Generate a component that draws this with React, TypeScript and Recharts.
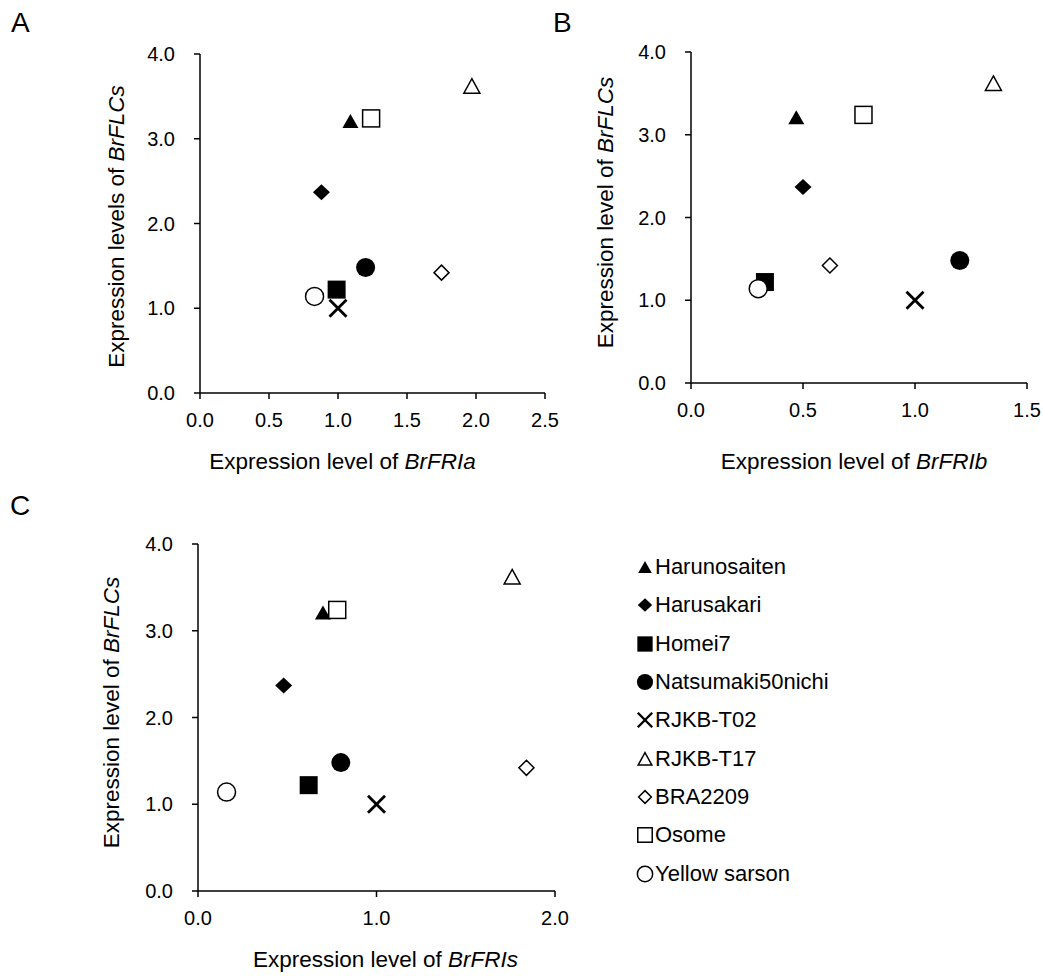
import React from "react";
import { ScatterChart, Scatter, XAxis, YAxis, Legend } from "recharts";

const FONT = '"Liberation Sans", Arial, sans-serif';

// cultivars, in drawing order
const varieties = [
  "Harunosaiten",
  "Harusakari",
  "Homei7",
  "Natsumaki50nichi",
  "RJKB-T02",
  "RJKB-T17",
  "BRA2209",
  "Osome",
  "Yellow sarson",
];
const markers = [
  "triangleFilled",
  "diamondFilled",
  "squareFilled",
  "circleFilled",
  "cross",
  "triangleOpen",
  "diamondOpen",
  "squareOpen",
  "circleOpen",
];

const brFLCs = [3.21, 2.37, 1.22, 1.48, 1.0, 3.62, 1.42, 3.24, 1.14];
const brFRIa = [1.09, 0.88, 0.99, 1.2, 1.0, 1.97, 1.75, 1.24, 0.83];
const brFRIb = [0.47, 0.5, 0.33, 1.2, 1.0, 1.35, 0.62, 0.77, 0.3];
const brFRIs = [0.7, 0.48, 0.62, 0.8, 1.0, 1.76, 1.84, 0.78, 0.16];

const yTicks = [0, 1, 2, 3, 4];
const xTicksA = [0, 0.5, 1, 1.5, 2, 2.5];
const xTicksB = [0, 0.5, 1, 1.5];
const xTicksC = [0, 1, 2];

const axisStroke = { stroke: "#000", strokeWidth: 1.5 };
const tickStyle = { fontSize: 20, fill: "#000", fontFamily: FONT };
const TITLE_SIZE = 22.5;

function Marker({ kind, cx, cy, scale = 1 }: { kind: string; cx: number; cy: number; scale?: number }) {
  const s = scale;
  const sw = 1.5;
  switch (kind) {
    case "triangleFilled":
      return <polygon points={`${cx},${cy - 7 * s} ${cx + 8 * s},${cy + 7 * s} ${cx - 8 * s},${cy + 7 * s}`} fill="#000" />;
    case "triangleOpen":
      return (
        <polygon
          points={`${cx},${cy - 7.5 * s} ${cx + 8 * s},${cy + 7 * s} ${cx - 8 * s},${cy + 7 * s}`}
          fill="#fff"
          stroke="#000"
          strokeWidth={sw}
        />
      );
    case "diamondFilled":
      return <polygon points={`${cx},${cy - 8 * s} ${cx + 8.5 * s},${cy} ${cx},${cy + 8 * s} ${cx - 8.5 * s},${cy}`} fill="#000" />;
    case "diamondOpen":
      return (
        <polygon
          points={`${cx},${cy - 7.5 * s} ${cx + 7.5 * s},${cy} ${cx},${cy + 7.5 * s} ${cx - 7.5 * s},${cy}`}
          fill="#fff"
          stroke="#000"
          strokeWidth={sw}
        />
      );
    case "squareFilled":
      return <rect x={cx - 9 * s} y={cy - 9 * s} width={18 * s} height={18 * s} fill="#000" />;
    case "squareOpen":
      return (
        <rect x={cx - 8.5 * s} y={cy - 8.5 * s} width={17 * s} height={17 * s} fill="#fff" stroke="#000" strokeWidth={sw} />
      );
    case "circleFilled":
      return <circle cx={cx} cy={cy} r={9.5 * s} fill="#000" />;
    case "circleOpen":
      return <circle cx={cx} cy={cy} r={9 * s} fill="#fff" stroke="#000" strokeWidth={sw} />;
    case "cross":
      return (
        <g stroke="#000" strokeWidth={2.8 * s}>
          <line x1={cx - 8.5 * s} y1={cy - 8.5 * s} x2={cx + 8.5 * s} y2={cy + 8.5 * s} />
          <line x1={cx - 8.5 * s} y1={cy + 8.5 * s} x2={cx + 8.5 * s} y2={cy - 8.5 * s} />
        </g>
      );
    default:
      return null;
  }
}

function xTitle(gene: string, dx: number, dy: number) {
  return (props: any) => {
    const vb = props.viewBox || { x: 0, y: 0, width: 0 };
    return (
      <text
        x={vb.x + vb.width / 2 + dx}
        y={vb.y + dy}
        textAnchor="middle"
        fontSize={TITLE_SIZE}
        fill="#000"
        fontFamily={FONT}
      >
        Expression level of{" "}
        <tspan fontStyle="italic">{gene}</tspan>
      </text>
    );
  };
}

function yTitle(text: string, gap: number, dy: number) {
  return (props: any) => {
    const vb = props.viewBox || { x: 0, y: 0, width: 0, height: 0 };
    const x = vb.x + vb.width - gap;
    const y = vb.y + vb.height / 2 + dy;
    return (
      <text
        x={x}
        y={y}
        transform={`rotate(-90, ${x}, ${y})`}
        textAnchor="middle"
        fontSize={TITLE_SIZE}
        fill="#000"
        fontFamily={FONT}
      >
        {text}{" "}
        <tspan fontStyle="italic">BrFLCs</tspan>
      </text>
    );
  };
}

function LegendList(props: any) {
  const payload = [...(props.payload || [])].sort(
    (a: any, b: any) => varieties.indexOf(a.value) - varieties.indexOf(b.value)
  );
  return (
    <div style={{ fontFamily: FONT }}>
      {payload.map((entry: any) => {
        const i = varieties.indexOf(entry.value);
        return (
          <div key={entry.value} style={{ display: "flex", alignItems: "center", height: 38.33 }}>
            <svg width={20} height={20} style={{ display: "block" }}>
              <Marker kind={markers[i]} cx={10} cy={10} scale={0.85} />
            </svg>
            <span style={{ fontSize: 22, lineHeight: "22px", color: "#000" }}>{entry.value}</span>
          </div>
        );
      })}
    </div>
  );
}

interface PanelProps {
  width: number;
  height: number;
  margin: { top: number; right: number; bottom: number; left: number };
  xValues: number[];
  xTicks: number[];
  gene: string;
  yText: string;
  xDx: number;
  xDy: number;
  yGap: number;
  yDy: number;
  withLegend?: boolean;
}

function Panel(p: PanelProps) {
  return (
    <ScatterChart width={p.width} height={p.height} margin={p.margin}>
      <XAxis
        type="number"
        dataKey="x"
        domain={[p.xTicks[0], p.xTicks[p.xTicks.length - 1]]}
        ticks={p.xTicks}
        interval={0}
        tickFormatter={(v: number) => v.toFixed(1)}
        axisLine={axisStroke}
        tickLine={axisStroke}
        tickSize={6}
        tickMargin={14}
        tick={tickStyle}
        height={50}
        label={xTitle(p.gene, p.xDx, p.xDy)}
      />
      <YAxis
        type="number"
        dataKey="y"
        domain={[0, 4]}
        ticks={yTicks}
        interval={0}
        tickFormatter={(v: number) => v.toFixed(1)}
        axisLine={axisStroke}
        tickLine={axisStroke}
        tickSize={6}
        tickMargin={19}
        tick={tickStyle}
        width={100}
        label={yTitle(p.yText, p.yGap, p.yDy)}
      />
      {varieties.map((name, i) => (
        <Scatter
          key={name}
          name={name}
          data={[{ x: p.xValues[i], y: brFLCs[i] }]}
          shape={(s: any) => <Marker kind={markers[i]} cx={s.cx} cy={s.cy} />}
          isAnimationActive={false}
        />
      ))}
      {p.withLegend && (
        <Legend
          content={LegendList}
          layout="vertical"
          align="center"
          verticalAlign="middle"
          wrapperStyle={{ left: 635, top: 68 }}
        />
      )}
    </ScatterChart>
  );
}

const letterStyle: React.CSSProperties = {
  position: "absolute",
  fontSize: 28,
  lineHeight: "28px",
  color: "#000",
};

export default function App() {
  return (
    <div
      style={{
        position: "absolute",
        left: 0,
        top: 0,
        width: 1043,
        height: 976,
        background: "#fff",
        fontFamily: FONT,
        overflow: "hidden",
      }}
    >
      <div style={{ position: "absolute", left: 0, top: 0 }}>
        <Panel
          width={560}
          height={480}
          margin={{ top: 54, right: 15, bottom: 37, left: 100 }}
          xValues={brFRIa}
          xTicks={xTicksA}
          gene="BrFRIa"
          yText="Expression levels of"
          xDx={-30}
          xDy={76}
          yGap={76}
          yDy={3}
        />
      </div>
      <div style={{ position: "absolute", left: 520, top: 0 }}>
        <Panel
          width={523}
          height={480}
          margin={{ top: 52, right: 16, bottom: 47, left: 71 }}
          xValues={brFRIb}
          xTicks={xTicksB}
          gene="BrFRIb"
          yText="Expression level of"
          xDx={-5}
          xDy={86}
          yGap={78}
          yDy={-5}
        />
      </div>
      <div style={{ position: "absolute", left: 0, top: 480 }}>
        <Panel
          width={1043}
          height={496}
          margin={{ top: 64, right: 488, bottom: 35, left: 98 }}
          xValues={brFRIs}
          xTicks={xTicksC}
          gene="BrFRIs"
          yText="Expression level of"
          xDx={9}
          xDy={76}
          yGap={79}
          yDy={-5}
          withLegend
        />
      </div>
      <div style={{ ...letterStyle, left: 11, top: 9 }}>A</div>
      <div style={{ ...letterStyle, left: 553, top: 9 }}>B</div>
      <div style={{ ...letterStyle, left: 10, top: 492 }}>C</div>
    </div>
  );
}
